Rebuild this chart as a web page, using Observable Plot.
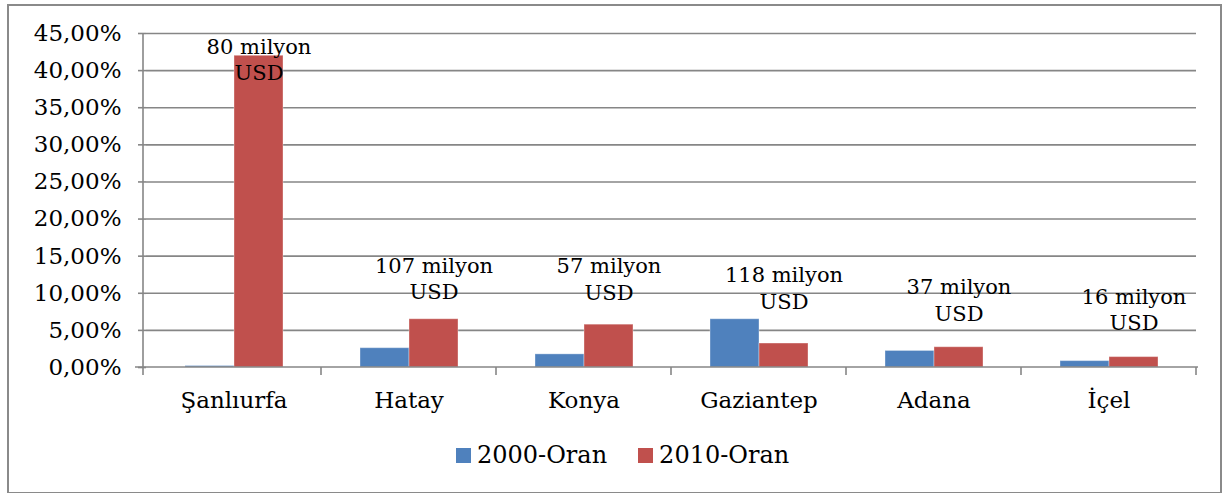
<!DOCTYPE html>
<html>
<head>
<meta charset="utf-8">
<script src="https://cdn.jsdelivr.net/npm/d3@7"></script>
<script src="https://cdn.jsdelivr.net/npm/@observablehq/plot@0.6"></script>
<style>
  html, body { margin: 0; padding: 0; background: #fff; }
  #wrap { position: relative; width: 1229px; height: 493px; overflow: hidden; font-family: "DejaVu Serif", serif; }
  #border { position: absolute; left: 7px; top: 4px; width: 1211px; height: 486px; border: 2px solid #8a8a8a; }
  #chart { position: absolute; left: 0; top: 0; }
  #legend { position: absolute; left: 456px; top: 441px; display: flex; align-items: center; font-size: 24px; color: #000; }
  .item { display: flex; align-items: center; margin-right: 31px; }
  .sw { width: 15px; height: 15px; margin-right: 6px; }
</style>
</head>
<body>
<div id="wrap">
  <div id="border"></div>
  <div id="chart"></div>
  <div id="legend"></div>
</div>
<script>
const categories = ["Şanlıurfa", "Hatay", "Konya", "Gaziantep", "Adana", "İçel"];
const series = ["2000-Oran", "2010-Oran"];
const colors = ["#4F81BD", "#C0504D"];
const values2000 = [0.002, 0.026, 0.0177, 0.065, 0.0223, 0.0086];
const values2010 = [0.420, 0.065, 0.0577, 0.0323, 0.0273, 0.014];
const labels = ["80 milyon\nUSD", "107 milyon\nUSD", "57 milyon\nUSD", "118 milyon\nUSD", "37 milyon\nUSD", "16 milyon\nUSD"];
const labelAt = [0.416, 0.1216, 0.1203, 0.1082, 0.0921, 0.0793];
const yTicks = [0, 0.05, 0.10, 0.15, 0.20, 0.25, 0.30, 0.35, 0.40, 0.45];

const rows = [];
categories.forEach((c, i) => {
  rows.push({category: c, series: series[0], value: values2000[i]});
  rows.push({category: c, series: series[1], value: values2010[i]});
});
const labelRows = categories.map((c, i) => ({category: c, series: series[1], label: labels[i], at: labelAt[i]}));

const fmt = d => (d * 100).toFixed(2).replace(".", ",") + "%";
const gray = "#868686";

const plot = Plot.plot({
  width: 1229,
  height: 440,
  marginLeft: 143,
  marginRight: 31,
  marginTop: 33,
  marginBottom: 73,
  style: {fontFamily: "'DejaVu Serif', serif", fontSize: "22px", color: "#000", background: "transparent", overflow: "visible"},
  fx: {domain: categories, padding: 0, label: null, axis: null},
  x: {domain: series, paddingInner: 0, paddingOuter: 0.758, axis: null},
  y: {domain: [0, 0.45], label: null},
  color: {domain: series, range: colors},
  marks: [
    Plot.ruleY(yTicks.slice(1), {stroke: gray, strokeWidth: 1.6}),
    Plot.barY(rows, {fx: "category", x: "series", y: "value", fill: "series", stroke: "#ffffff", strokeOpacity: 0.35, strokeWidth: 1}),
    Plot.text(labelRows, {fx: "category", x: "series", y: "at", text: "label", fontSize: 21, lineHeight: 1.25, fill: "#000"}),
    Plot.axisY({ticks: yTicks, tickFormat: fmt, tickSize: 8, tickPadding: 17, stroke: gray, strokeWidth: 1.6, fontSize: 23, label: null}),
    Plot.axisFx({anchor: "bottom", tickSize: 0, tickPadding: 24, fontSize: 23, label: null})
  ]
});

document.getElementById("chart").appendChild(plot);

// axis lines and category boundary ticks drawn from the plot's own scales
const fx = plot.scale("fx");
const y = plot.scale("y");
const svg = d3.select(plot);
const x0 = fx.range[0], x1 = fx.range[1];
const y0 = y.apply(0), yTop = y.apply(0.45);
const g = svg.append("g").attr("stroke", gray).attr("stroke-width", 1.6);
g.append("line").attr("x1", x0).attr("x2", x0).attr("y1", yTop).attr("y2", y0 + 8);
g.append("line").attr("x1", x0 - 8).attr("x2", x1).attr("y1", y0).attr("y2", y0);
const bounds = categories.map(c => fx.apply(c)).concat([fx.apply(categories[categories.length - 1]) + fx.bandwidth]);
bounds.slice(1).forEach(b => g.append("line").attr("x1", b).attr("x2", b).attr("y1", y0).attr("y2", y0 + 8));

const legend = document.getElementById("legend");
series.forEach((s, i) => {
  const it = document.createElement("div");
  it.className = "item";
  const sw = document.createElement("div");
  sw.className = "sw";
  sw.style.background = colors[i];
  const t = document.createElement("span");
  t.textContent = s;
  it.appendChild(sw);
  it.appendChild(t);
  legend.appendChild(it);
});
</script>
</body>
</html>
